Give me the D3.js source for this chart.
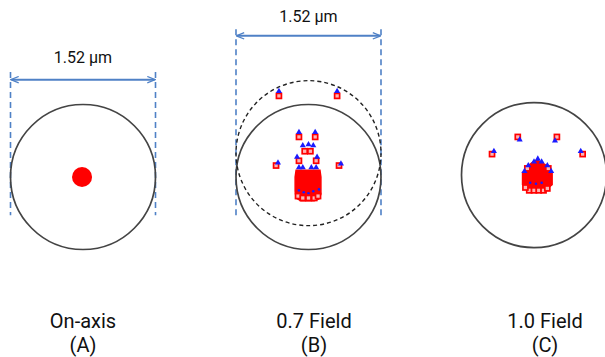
<!DOCTYPE html>
<html>
<head>
<meta charset="utf-8">
<script src="https://cdn.jsdelivr.net/npm/d3@7"></script>
<style>
  body { margin: 0; background: #fff; }
  svg { display: block; font-family: Roboto, "Open Sans", sans-serif; }
</style>
</head>
<body>
<script>
'use strict';

// panel names and tags
const panels = ["A", "B", "C"];
const fieldNames = ["On-axis", "0.7 Field", "1.0 Field"];
const tags = ["(A)", "(B)", "(C)"];

// airy disk diameter (um)
const airyDiameter = 1.52;
const dimLabel = "1.52 \u03bcm";

// airy circles per panel, centre in um
const circlesA = [{x: 0, y: 0, dashed: false}];
const circlesB = [{x: 0, y: 0, dashed: false}, {x: 0, y: 0.25, dashed: true}];
const circlesC = [{x: 0, y: 0.02, dashed: false}];

// on-axis spot (um)
const spotA = [{x: -0.01, y: 0.0, r: 0.105}];

// red wavelength spots (um)
const redB = [[-0.31, 0.85], [0.30, 0.85], [-0.10, 0.42], [0.07, 0.42], [-0.04, 0.27], [0.02, 0.27],
  [-0.10, 0.17], [0.08, 0.17], [-0.34, 0.12], [0.32, 0.12]];
const redC = [[-0.17, 0.42], [0.24, 0.42], [-0.44, 0.24], [0.51, 0.24]];

// blue wavelength spots (um)
const blueB = [[-0.31, 0.90], [0.30, 0.90], [-0.10, 0.47], [0.07, 0.47], [-0.06, 0.33], [0.0, 0.34],
  [0.05, 0.33], [-0.12, 0.21], [0.09, 0.21], [-0.32, 0.15], [0.34, 0.14],
  [-0.10, 0.10], [-0.06, 0.10], [0.03, 0.10], [0.08, 0.10]];
const blueC = [[-0.15, 0.39], [0.22, 0.38], [-0.42, 0.27], [0.49, 0.27],
  [-0.06, 0.12], [0.0, 0.16], [0.04, 0.19], [0.08, 0.16], [0.14, 0.12], [-0.10, 0.06], [0.18, 0.06]];

// dense core outlines (um)
const blobB = [[-0.13, 0.07], [0.12, 0.07], [0.13, 0.0], [0.13, -0.18], [0.11, -0.23], [0.06, -0.25],
  [-0.08, -0.25], [-0.13, -0.22], [-0.14, -0.15], [-0.14, 0.0]];
const blobC = [[0.03, 0.18], [0.08, 0.15], [0.15, 0.11], [0.15, 0.06], [0.19, 0.05], [0.19, -0.08],
  [0.14, -0.12], [-0.06, -0.12], [-0.12, -0.08], [-0.12, 0.05], [-0.08, 0.06], [-0.07, 0.11], [-0.02, 0.15]];

// open red squares at edge of the core (um)
const edgeB = [[-0.11, -0.20], [-0.06, -0.22], [0.0, -0.22], [0.06, -0.22], [0.10, -0.20]];
const edgeC = [[-0.05, -0.14], [0.0, -0.14], [0.05, -0.14], [0.10, -0.14], [0.14, -0.12], [-0.09, -0.11],
  [-0.07, 0.09], [0.15, 0.09]];

// blue rays inside the core (um)
const coreBlueB = [[-0.10, -0.14], [-0.05, -0.16], [0.0, -0.17], [0.05, -0.15], [0.10, -0.19],
  [-0.08, -0.22], [-0.02, -0.23], [0.04, -0.21], [0.11, -0.13]];
const coreBlueC = [[-0.04, -0.06], [0.02, -0.07], [0.08, -0.06]];

// dimension marks: panel, line height, text height, dashed extent (um)
const dims = [
  {panel: "A", lineY: 1.02, textY: 1.20, top: 1.10, bottom: -0.40},
  {panel: "B", lineY: 1.48, textY: 1.62, top: 1.55, bottom: -0.40}
];

const panelData = {
  A: {circles: circlesA, red: [], blue: [], blob: null, edge: [], core: []},
  B: {circles: circlesB, red: redB, blue: blueB, blob: blobB, edge: edgeB, core: coreBlueB},
  C: {circles: circlesC, red: redC, blue: blueC, blob: blobC, edge: edgeC, core: coreBlueC}
};

const width = 605, height = 357;
const blue = "#4f81c6", red = "#ff0000", triBlue = "#1a1aff";

const svg = d3.select("body").append("svg")
  .attr("width", width).attr("height", height);

const defs = svg.append("defs");
["start", "end"].forEach(k => {
  defs.append("marker")
    .attr("id", "arr-" + k)
    .attr("viewBox", "0 0 10 10")
    .attr("refX", k === "end" ? 9 : 1).attr("refY", 5)
    .attr("markerWidth", 9).attr("markerHeight", 8)
    .attr("markerUnits", "userSpaceOnUse")
    .attr("orient", "auto")
    .append("path")
    .attr("d", k === "end" ? "M0,1 L10,5 L0,9" : "M10,1 L0,5 L10,9")
    .attr("fill", "none").attr("stroke", blue).attr("stroke-width", 1.6);
});

const centerX = d3.scalePoint().domain(panels).range([83, 534]);
const labelX = d3.scalePoint().domain(panels).range([83, 545]);
const centerY = 177;
const half = airyDiameter / 2;
const halfPx = 72.5;

panels.forEach((p, i) => {
  const cx = centerX(p);
  const x = d3.scaleLinear().domain([-half, half]).range([cx - halfPx, cx + halfPx]);
  const y = d3.scaleLinear().domain([-half, half]).range([centerY + halfPx, centerY - halfPx]);
  const d = panelData[p];
  const g = svg.append("g");

  // dimension marks
  dims.filter(m => m.panel === p).forEach(m => {
    [-half, half].forEach(v => {
      g.append("line")
        .attr("x1", x(v)).attr("x2", x(v))
        .attr("y1", y(m.top)).attr("y2", y(m.bottom))
        .attr("stroke", blue).attr("stroke-width", 1.6)
        .attr("stroke-dasharray", "6,4");
    });
    g.append("line")
      .attr("x1", x(-half) + 1).attr("x2", x(half) - 1)
      .attr("y1", y(m.lineY)).attr("y2", y(m.lineY))
      .attr("stroke", blue).attr("stroke-width", 2)
      .attr("marker-start", "url(#arr-start)")
      .attr("marker-end", "url(#arr-end)");
    g.append("text")
      .attr("x", x(0)).attr("y", y(m.textY))
      .attr("text-anchor", "middle")
      .style("font-size", "16px").attr("fill", "#111")
      .text(dimLabel);
  });

  // airy circles
  g.selectAll(".airy").data(d.circles).enter().append("circle")
    .attr("cx", c => x(c.x)).attr("cy", c => y(c.y))
    .attr("r", x(half) - x(0))
    .attr("fill", "none")
    .attr("stroke", c => c.dashed ? "#222" : "#444")
    .attr("stroke-width", c => c.dashed ? 1.4 : 1.7)
    .attr("stroke-dasharray", c => c.dashed ? "4,3" : null);

  if (p === "A") {
    g.selectAll(".dot").data(spotA).enter().append("circle")
      .attr("cx", s => x(s.x)).attr("cy", s => y(s.y))
      .attr("r", s => x(s.r) - x(0))
      .attr("fill", red);
  }

  // dense core
  if (d.blob) {
    g.append("path")
      .datum(d.blob)
      .attr("d", d3.line().x(v => x(v[0])).y(v => y(v[1])).curve(d3.curveLinearClosed))
      .attr("fill", red).attr("stroke", red).attr("stroke-width", 1.5);
  }

  // blue rays inside core
  g.selectAll(".core").data(d.core).enter().append("circle")
    .attr("cx", v => x(v[0])).attr("cy", v => y(v[1]))
    .attr("r", 1.3).attr("fill", triBlue);

  // red spots
  g.selectAll(".red").data(d.red.concat(d.edge)).enter().append("rect")
    .attr("x", v => x(v[0]) - 2.5).attr("y", v => y(v[1]) - 2.5)
    .attr("width", 5).attr("height", 5)
    .attr("fill", "#ffb3b3").attr("stroke", red).attr("stroke-width", 1.7);

  // blue spots
  const tri = d3.symbol().type(d3.symbolTriangle).size(16);
  g.selectAll(".blue").data(d.blue).enter().append("path")
    .attr("transform", v => `translate(${x(v[0])},${y(v[1])})`)
    .attr("d", tri)
    .attr("fill", triBlue);

  // field labels
  g.append("text")
    .attr("x", labelX(p)).attr("y", 328)
    .attr("text-anchor", "middle")
    .style("font-size", "20px").attr("fill", "#111")
    .text(fieldNames[i]);
  g.append("text")
    .attr("x", labelX(p)).attr("y", 352)
    .attr("text-anchor", "middle")
    .style("font-size", "20px").attr("fill", "#111")
    .text(tags[i]);
});
</script>
</body>
</html>
